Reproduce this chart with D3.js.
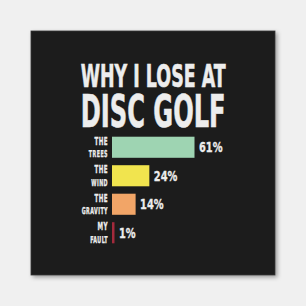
<!DOCTYPE html>
<html>
<head>
<meta charset="utf-8">
<script src="https://cdn.jsdelivr.net/npm/d3@7"></script>
<style>
    body { margin: 0; background: #f0f0f0; }
    svg { display: block; }
</style>
</head>
<body>
<div id="chart"></div>
<script>
// chart data
const titleLines = ["WHY I LOSE AT", "DISC GOLF"];
const reasons = ["trees", "wind", "gravity", "fault"];
const labelTop = ["THE", "THE", "THE", "MY"];
const labelBottom = ["TREES", "WIND", "GRAVITY", "FAULT"];
const percents = [61, 24, 14, 1];
const colors = ["#9ed4b2", "#f1e44e", "#f2a567", "#a32a3c"];

// squeeze a text horizontally: by a factor, or to a given width
function squeeze(sel, x, y, factor, toWidth) {
    sel.each(function () {
        const w = this.getComputedTextLength();
        const f = toWidth ? toWidth / w : factor;
        d3.select(this).attr("transform", `translate(${x},${y}) scale(${f},1)`);
    });
}

function drawChart() {
    const width = 306, height = 306;
    const font = "'DejaVu Sans Condensed', 'DejaVu Sans', sans-serif";
    const ink = "#ededed";

    const svg = d3.select("#chart")
        .append("svg")
        .attr("width", width)
        .attr("height", height);

    // soft shadow under the black card
    const defs = svg.append("defs");
    defs.append("filter")
        .attr("id", "shadow")
        .attr("x", "-10%").attr("y", "-10%")
        .attr("width", "130%").attr("height", "130%")
        .append("feDropShadow")
        .attr("dx", 2).attr("dy", 2)
        .attr("stdDeviation", 2)
        .attr("flood-color", "#000")
        .attr("flood-opacity", 0.35);

    svg.append("rect")
        .attr("x", 31).attr("y", 31)
        .attr("width", 244).attr("height", 244)
        .attr("fill", "#1d1d1d")
        .attr("stroke", "#353535")
        .attr("stroke-width", 0.8)
        .attr("filter", "url(#shadow)");

    // title, stretched to the same width on both lines
    const titleSizes = [32, 45];
    const titleBase = [86.7, 126.7];
    svg.selectAll(".title")
        .data(titleLines)
        .join("text")
        .attr("class", "title")
        .attr("font-family", font)
        .attr("font-weight", "bold")
        .attr("font-size", (d, i) => titleSizes[i])
        .attr("fill", ink)
        .attr("stroke", ink)
        .attr("stroke-width", 0.6)
        .text(d => d)
        .each(function (d, i) {
            squeeze(d3.select(this), 80.7, titleBase[i], 1, 145);
        });

    // scales
    const y = d3.scaleBand()
        .domain(reasons)
        .range([133, 247])
        .paddingInner(0.26)
        .paddingOuter(0.13);

    const x = d3.scalePow()
        .exponent(0.85)
        .domain([0, d3.max(percents)])
        .range([0, 82.5]);

    const x0 = 112;
    const rows = reasons.map((r, i) => ({
        key: r, top: labelTop[i], bottom: labelBottom[i],
        value: percents[i], color: colors[i]
    }));
    const barW = d => Math.max(1.5, x(d.value));

    // bars
    svg.selectAll(".bar")
        .data(rows)
        .join("rect")
        .attr("class", "bar")
        .attr("x", x0)
        .attr("y", d => y(d.key))
        .attr("width", barW)
        .attr("height", y.bandwidth())
        .attr("fill", d => d.color);

    // value labels
    svg.selectAll(".value")
        .data(rows)
        .join("text")
        .attr("class", "value")
        .attr("font-family", font)
        .attr("font-weight", "bold")
        .attr("font-size", 14)
        .attr("fill", ink)
        .attr("stroke", ink)
        .attr("stroke-width", 0.3)
        .text(d => d.value + "%")
        .each(function (d) {
            squeeze(d3.select(this), x0 + barW(d) + 4.5,
                y(d.key) + y.bandwidth() / 2 + 5, 0.78);
        });

    // category labels, two lines, right aligned
    svg.selectAll(".labTop")
        .data(rows)
        .join("text")
        .attr("class", "labTop")
        .attr("text-anchor", "end")
        .attr("font-family", font)
        .attr("font-weight", "bold")
        .attr("font-size", 11)
        .attr("letter-spacing", 0.8)
        .attr("fill", ink)
        .attr("stroke", ink)
        .attr("stroke-width", 0.35)
        .text(d => d.top)
        .each(function (d) {
            squeeze(d3.select(this), 108, y(d.key) + 8.2, 0.56);
        });

    svg.selectAll(".labBottom")
        .data(rows)
        .join("text")
        .attr("class", "labBottom")
        .attr("text-anchor", "end")
        .attr("font-family", font)
        .attr("font-weight", "bold")
        .attr("font-size", 9.5)
        .attr("letter-spacing", 0.8)
        .attr("fill", ink)
        .attr("stroke", ink)
        .attr("stroke-width", 0.35)
        .text(d => d.bottom)
        .each(function (d) {
            squeeze(d3.select(this), 108, y(d.key) + y.bandwidth() - 0.3, 0.56);
        });
}

drawChart();
</script>
</body>
</html>
